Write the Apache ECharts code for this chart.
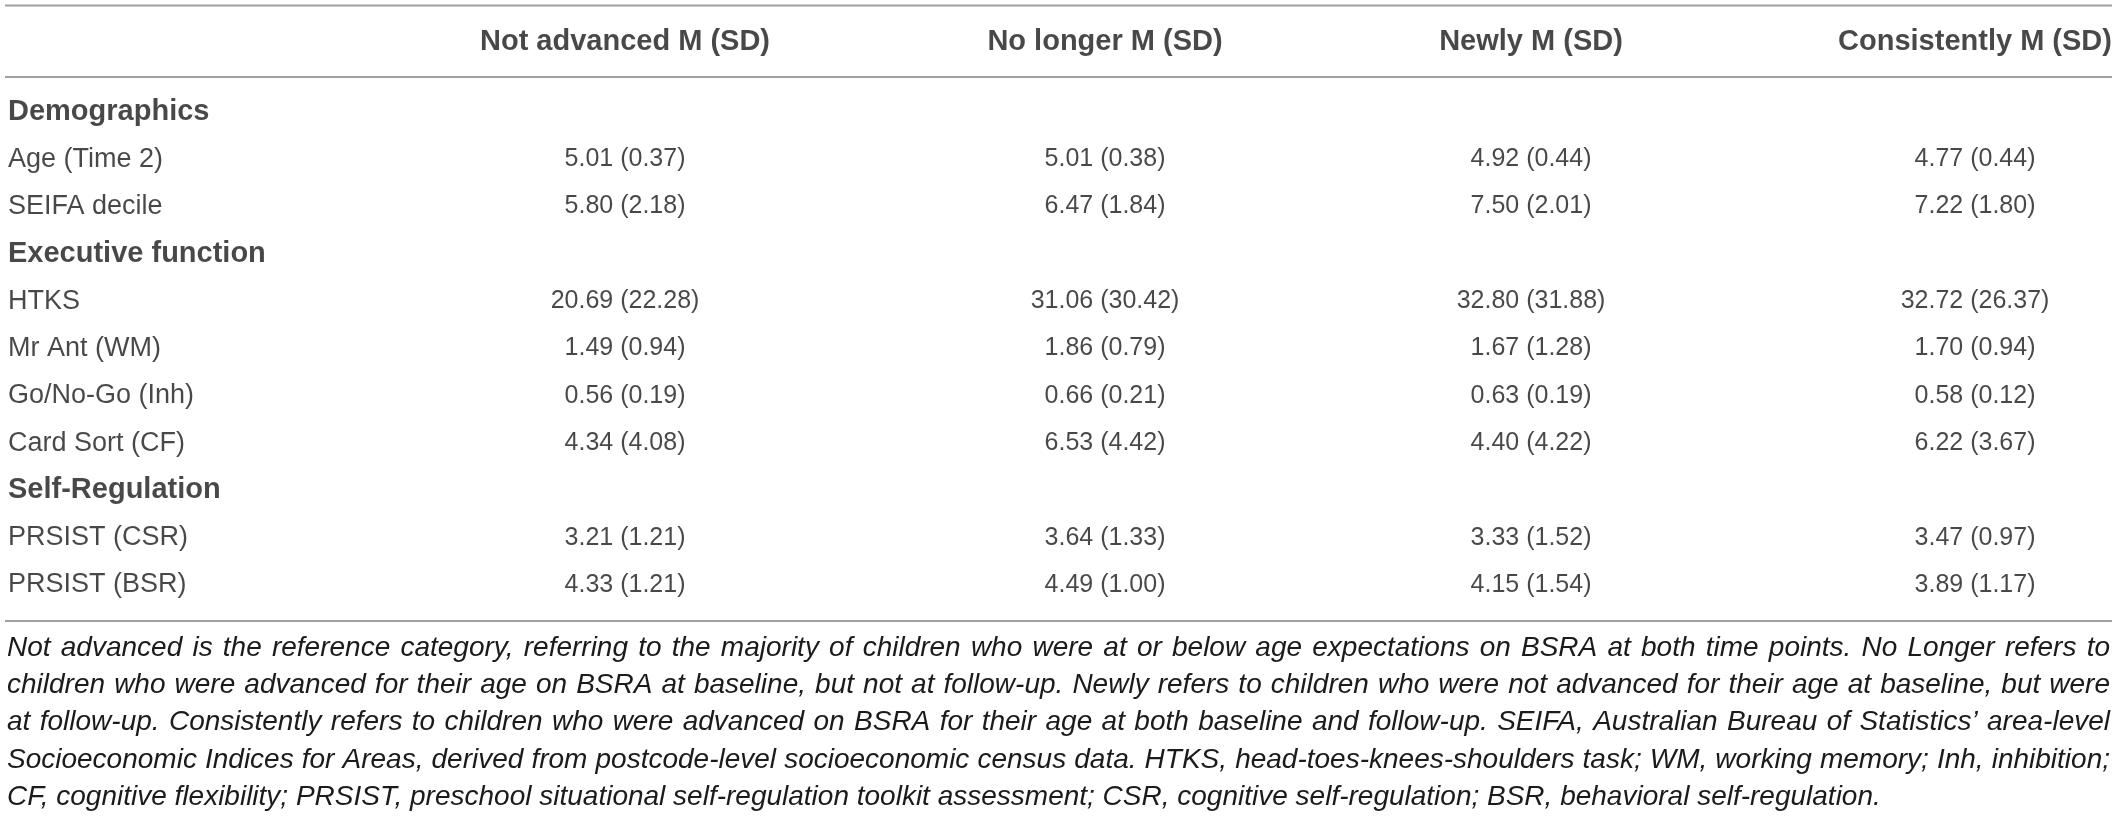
<!DOCTYPE html>
<html>
<head>
<meta charset="utf-8">
<script src="https://cdn.jsdelivr.net/npm/echarts@6/dist/echarts.min.js"></script>
<style>
  html, body { margin: 0; padding: 0; background: #fff; }
  #main { width: 2118px; height: 819px; }
</style>
</head>
<body>
<div id="main"></div>
<script>
// table content
var groups = ['Not advanced M (SD)', 'No longer M (SD)', 'Newly M (SD)', 'Consistently M (SD)'];
var rows = ['Demographics', 'Age (Time 2)', 'SEIFA decile', 'Executive function', 'HTKS',
            'Mr Ant (WM)', 'Go/No-Go (Inh)', 'Card Sort (CF)', 'Self-Regulation',
            'PRSIST (CSR)', 'PRSIST (BSR)'];
var sectionRows = ['Demographics', 'Executive function', 'Self-Regulation'];
// one entry per measure row (sections skipped), order as in rows
var notAdvancedM   = [5.01, 5.80, 20.69, 1.49, 0.56, 4.34, 3.21, 4.33];
var notAdvancedSD  = [0.37, 2.18, 22.28, 0.94, 0.19, 4.08, 1.21, 1.21];
var noLongerM      = [5.01, 6.47, 31.06, 1.86, 0.66, 6.53, 3.64, 4.49];
var noLongerSD     = [0.38, 1.84, 30.42, 0.79, 0.21, 4.42, 1.33, 1.00];
var newlyM         = [4.92, 7.50, 32.80, 1.67, 0.63, 4.40, 3.33, 4.15];
var newlySD        = [0.44, 2.01, 31.88, 1.28, 0.19, 4.22, 1.52, 1.54];
var consistentlyM  = [4.77, 7.22, 32.72, 1.70, 0.58, 6.22, 3.47, 3.89];
var consistentlySD = [0.44, 1.80, 26.37, 0.94, 0.12, 3.67, 0.97, 1.17];
var footnoteLines = [
    'Not advanced is the reference category, referring to the majority of children who were at or below age expectations on BSRA at both time points. No Longer refers to',
    'children who were advanced for their age on BSRA at baseline, but not at follow-up. Newly refers to children who were not advanced for their age at baseline, but were',
    'at follow-up. Consistently refers to children who were advanced on BSRA for their age at both baseline and follow-up. SEIFA, Australian Bureau of Statistics\u2019 area-level',
    'Socioeconomic Indices for Areas, derived from postcode-level socioeconomic census data. HTKS, head-toes-knees-shoulders task; WM, working memory; Inh, inhibition;',
    'CF, cognitive flexibility; PRSIST, preschool situational self-regulation toolkit assessment; CSR, cognitive self-regulation; BSR, behavioral self-regulation.'
];

// layout
var W = 2118;
var colX = [8, 625, 1105, 1531, 1975];
var FONT = '"Liberation Sans", Arial, Helvetica, sans-serif';
var NOTE_FONT = '"Liberation Sans Narrow", "Liberation Sans", Arial, sans-serif';
var INK = '#1c1a1b';
var RULE = '#a0a0a0';

var means = [notAdvancedM, noLongerM, newlyM, consistentlyM];
var sds = [notAdvancedSD, noLongerSD, newlySD, consistentlySD];

var headerData = groups.map(function (g, j) {
    return { value: [colX[j + 1], 0], name: g };
});

var bodyData = [];
var k = 0;
rows.forEach(function (r, i) {
    var isSection = sectionRows.indexOf(r) >= 0;
    bodyData.push({
        value: [colX[0], i], name: r,
        label: {
            align: 'left',
            fontWeight: isSection ? 'bold' : 'normal',
            fontSize: isSection ? 29 : 27
        }
    });
    if (!isSection) {
        for (var j = 0; j < 4; j++) {
            bodyData.push({
                value: [colX[j + 1], i],
                name: means[j][k].toFixed(2) + ' (' + sds[j][k].toFixed(2) + ')'
            });
        }
        k++;
    }
});

// footnote: justified lines, words measured with canvas
var ctx = document.createElement('canvas').getContext('2d');
var noteSize = 28;
var noteLeft = 7, noteRight = 2110;
function noteFont(s) { return 'italic ' + s + 'px ' + NOTE_FONT; }
footnoteLines.forEach(function (line, i) {
    if (i === footnoteLines.length - 1) return;
    ctx.font = noteFont(noteSize);
    while (ctx.measureText(line).width > noteRight - noteLeft && noteSize > 10) {
        noteSize -= 0.5;
        ctx.font = noteFont(noteSize);
    }
});
ctx.font = noteFont(noteSize);
var spaceW = ctx.measureText(' ').width;
var noteGraphics = [];
footnoteLines.forEach(function (line, i) {
    var y = 648 + i * 37.3;
    var words = line.split(' ');
    var widths = words.map(function (w) { return ctx.measureText(w).width; });
    var total = widths.reduce(function (a, b) { return a + b; }, 0);
    var gap = (i === footnoteLines.length - 1) ? spaceW :
        (noteRight - noteLeft - total) / (words.length - 1);
    var x = noteLeft;
    words.forEach(function (w, n) {
        noteGraphics.push({
            type: 'text', x: x, y: y, silent: true,
            style: {
                text: w, fill: INK, font: noteFont(noteSize),
                textAlign: 'left', textVerticalAlign: 'middle'
            }
        });
        x += widths[n] + gap;
    });
});

function rule(y) {
    return {
        type: 'line', silent: true,
        shape: { x1: 5, y1: y, x2: 2112, y2: y },
        style: { stroke: RULE, lineWidth: 2 }
    };
}

var myChart = echarts.init(document.getElementById('main'));
var option = {
    animation: false,
    backgroundColor: '#fff',
    textStyle: { fontFamily: FONT, color: INK },
    grid: [
        { left: 0, right: 0, top: 5, height: 74 },
        { left: 0, right: 0, top: 88.35, height: 520.3 }
    ],
    xAxis: [
        { gridIndex: 0, type: 'value', min: 0, max: W, show: false },
        { gridIndex: 1, type: 'value', min: 0, max: W, show: false }
    ],
    yAxis: [
        { gridIndex: 0, type: 'category', data: ['header'], show: false },
        { gridIndex: 1, type: 'category', data: rows, inverse: true, show: false }
    ],
    series: [
        {
            name: 'header', type: 'scatter', xAxisIndex: 0, yAxisIndex: 0,
            symbolSize: 0, silent: true,
            label: {
                show: true, position: 'inside', formatter: '{b}',
                fontFamily: FONT, fontWeight: 'bold', fontSize: 29, color: INK
            },
            data: headerData
        },
        {
            name: 'body', type: 'scatter', xAxisIndex: 1, yAxisIndex: 1,
            symbolSize: 0, silent: true,
            label: {
                show: true, position: 'inside', formatter: '{b}',
                fontFamily: FONT, fontSize: 25, color: INK
            },
            data: bodyData
        }
    ],
    graphic: [rule(5.5), rule(77), rule(621)].concat(noteGraphics)
};

myChart.setOption(option);
window.onresize = myChart.resize;
</script>
</body>
</html>
